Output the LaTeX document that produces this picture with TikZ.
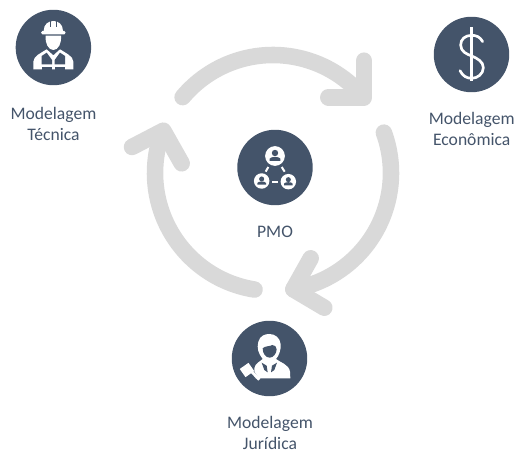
\documentclass[tikz,border=0pt]{standalone}
\usepackage{fontspec}
\setmainfont{Carlito}
\definecolor{slate}{HTML}{44546A}
\definecolor{ringgray}{HTML}{D9D9D9}
\tikzset{
  ring/.style={draw=ringgray,line width=12.4pt,line cap=round,line join=round},
  disc/.style={circle,fill=slate,draw=none,minimum size=56.6pt,inner sep=0pt},
  lab/.style={text=slate,font=\fontsize{13.2pt}{15.8pt}\selectfont,align=center,inner sep=0pt},
  icon/.style={x=0.25pt,y=-0.25pt},
  wh/.style={fill=white,draw=none},
  dk/.style={fill=slate,draw=none}
}
\begin{document}
\begin{tikzpicture}[x=0.75pt,y=-0.75pt]
\useasboundingbox (0,0) rectangle (515,452);
% ring arrows
\coordinate (hub) at (273,173);
\draw[ring] (hub) ++(-140:118) arc[start angle=-140,end angle=-40,radius=118];
\draw[ring] (364,60.7) coordinate (a1) -- (364,97.3) coordinate (t1) -- (328.3,97.3) coordinate (b1);
\draw[ring] (hub) ++(-20:118) arc[start angle=-20,end angle=80,radius=118];
\draw[ring] (310.7,258.3) coordinate (a2) -- (293.3,289.3) coordinate (t2) -- (324.3,307.7) coordinate (b2);
\draw[ring] (hub) ++(99:118) arc[start angle=99,end angle=200,radius=118];
\draw[ring] (181.7,163.3) coordinate (a3) -- (163.3,130.7) coordinate (t3) -- (132,147) coordinate (b3);
% discs
\node[disc] (tec) at (53.4,47.5) {};
\node[disc] (eco) at (471.5,54.5) {};
\node[disc] (pmo) at (275,167.5) {};
\node[disc] (jur) at (269.5,358.5) {};
% labels
\node[lab] (ltec) at (53.5,123.5) {Modelagem\\Técnica};
\node[lab] (leco) at (471.7,129) {Modelagem\\Econômica};
\node[lab] (lpmo) at (275,232) {PMO};
\node[lab] (ljur) at (270,433) {Modelagem\\Jurídica};
% worker icon
\begin{scope}[icon]
 \path[wh] (131,93) .. controls (131,72) and (146,63) .. (160,63) .. controls (174,63) and (189,72) .. (189,93) -- (193,93) .. controls (198,93) and (198,103) .. (193,103) -- (127,103) .. controls (122,103) and (122,93) .. (127,93) -- cycle;
 \draw[slate,line width=0.7pt] (150,62) -- (150,80) (170,62) -- (170,80);
 \path[wh] (137,107) -- (183,107) .. controls (185,130) and (175,150) .. (160,150) .. controls (145,150) and (135,130) .. (137,107) -- cycle;
 \path[wh] (100,208) -- (100,185) .. controls (100,168) and (125,158) .. (140,148) -- (160,166) -- (180,148) .. controls (195,158) and (220,168) .. (220,185) -- (220,208) -- cycle;
 \path[dk] (125,168) -- (140,158) -- (156,180) -- (156,193) -- (125,193) -- cycle;
 \path[dk] (195,168) -- (180,158) -- (164,180) -- (164,193) -- (195,193) -- cycle;
 \path[dk] (125,200) -- (156,200) -- (156,212) -- (125,212) -- cycle;
 \path[dk] (195,200) -- (164,200) -- (164,212) -- (195,212) -- cycle;
\end{scope}
% dollar icon
\begin{scope}[shift={(420,10)},icon]
 \draw[white,line width=2pt] (155,52) -- (155,212);
 \draw[white,line width=2pt,line cap=round] (188,95) .. controls (180,80) and (168,76) .. (155,76) .. controls (135,76) and (122,88) .. (122,105) .. controls (122,125) and (140,132) .. (155,138) .. controls (172,145) and (190,155) .. (190,173) .. controls (190,192) and (172,205) .. (155,205) .. controls (140,205) and (128,198) .. (120,182);
\end{scope}
% PMO icon
\begin{scope}[shift={(225,130)},icon]
 \fill[white] (150,78) circle[radius=7.4pt];
 \fill[white] (110,153) circle[radius=5.8pt];
 \fill[white] (190,155) circle[radius=5.8pt];
 \fill[slate] (150,69) circle[radius=2.4pt];
 \path[dk] (134,93) -- (134,86) .. controls (136,79) and (164,79) .. (166,86) -- (166,93) -- cycle;
 \fill[slate] (110,147) circle[radius=1.9pt];
 \path[dk] (97,164) -- (97,159) .. controls (99,153) and (121,153) .. (123,159) -- (123,164) -- cycle;
 \fill[slate] (190,149) circle[radius=1.9pt];
 \path[dk] (177,166) -- (177,161) .. controls (179,155) and (201,155) .. (203,161) -- (203,166) -- cycle;
 \draw[white,line width=1.5pt] (130,111) -- (122,125);
 \draw[white,line width=1.5pt] (170,111) -- (179,125);
 \draw[white,line width=1.5pt] (141,155) -- (160,155);
\end{scope}
% jurist icon
\begin{scope}[shift={(215,315)},icon]
 \path[wh] (118,190) -- (118,160) .. controls (120,145) and (135,140) .. (143,132) .. controls (130,115) and (125,100) .. (130,80) .. controls (135,62) and (150,57) .. (163,57) .. controls (180,57) and (195,68) .. (197,88) .. controls (198,105) and (192,122) .. (183,132) .. controls (195,142) and (222,148) .. (225,170) -- (226,190) -- cycle;
 \path[dk] (143,100) .. controls (150,92) and (165,95) .. (172,90) .. controls (180,90) and (184,95) .. (185,103) .. controls (185,115) and (175,128) .. (164,128) .. controls (152,128) and (143,115) .. (143,100) -- cycle;
 \path[dk] (140,143) -- (155,152) -- (158,172) -- (148,165) -- cycle;
 \path[dk] (186,143) -- (171,152) -- (168,172) -- (178,165) -- cycle;
 \path[dk] (108,158) -- (132,190) -- (110,192) -- (92,172) -- cycle;
 \path[wh,rotate around={35:(96,165)}] (80,150) rectangle (112,180);
 \draw[white,line width=2.2pt] (105,165) -- (133,194);
\end{scope}
\end{tikzpicture}
\end{document}
